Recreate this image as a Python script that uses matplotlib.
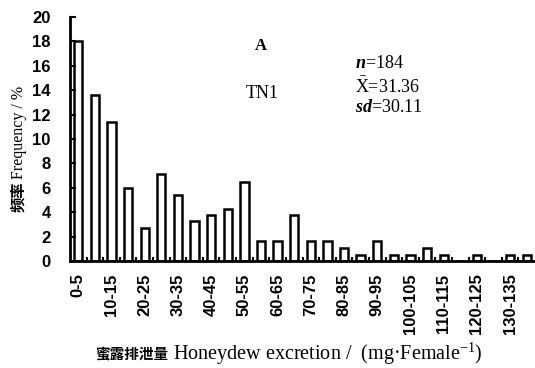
import matplotlib
matplotlib.use("Agg")
import matplotlib.pyplot as plt
import numpy as np

plt.rcParams['mathtext.fontset'] = 'custom'
plt.rcParams['mathtext.rm'] = 'Liberation Serif'
plt.rcParams['mathtext.it'] = 'Liberation Serif:italic'
plt.rcParams['mathtext.bf'] = 'Liberation Serif:bold'
plt.rcParams['mathtext.bfit'] = 'Liberation Serif:italic:bold'

bin_labels = ["0-5", "5-10", "10-15", "15-20", "20-25", "25-30", "30-35", "35-40",
              "40-45", "45-50", "50-55", "55-60", "60-65", "65-70", "70-75", "75-80",
              "80-85", "85-90", "90-95", "95-100", "100-105", "105-110", "110-115",
              "115-120", "120-125", "125-130", "130-135", "135-140"]
frequency = [18.0, 13.6, 11.4, 6.0, 2.7, 7.1, 5.4, 3.3, 3.8, 4.3, 6.5, 1.6, 1.6, 3.8,
             1.6, 1.6, 1.1, 0.5, 1.6, 0.5, 0.5, 1.1, 0.5, 0.0, 0.5, 0.0, 0.5, 0.5]
shown_labels = ["0-5", "10-15", "20-25", "30-35", "40-45", "50-55", "60-65", "70-75",
                "80-85", "90-95", "100-105", "110-115", "120-125", "130-135"]
y_ticks = [0, 2, 4, 6, 8, 10, 12, 14, 16, 18, 20]

W, H = 535, 368
fig = plt.figure(figsize=(W / 100, H / 100), dpi=100)
ax = fig.add_axes([70 / W, 1 - 261 / H, (535 - 70) / W, (261 - 17) / H])

x = np.arange(len(bin_labels))
ax.bar(x, frequency, width=0.5, color='white', edgecolor='black', linewidth=1.8)

ax.set_xlim(-0.5, len(bin_labels) - 0.5)
ax.set_ylim(0, 20)
ax.set_yticks(y_ticks)
ax.set_yticklabels([str(v) for v in y_ticks], fontfamily='Liberation Sans',
                   fontweight='bold', fontsize=12)

label_pos = [bin_labels.index(l) for l in shown_labels]
ax.set_xticks(label_pos)
ax.set_xticklabels(shown_labels, rotation=90, fontfamily='Liberation Sans',
                   fontweight='bold', fontsize=12)
ax.set_xticks(x[:-1] + 0.5, minor=True)
ax.tick_params(axis='x', which='major', length=0, pad=9)
ax.tick_params(axis='x', which='minor', direction='in', length=3, width=1.5)
ax.tick_params(axis='y', direction='in', length=4, width=1.5, pad=14)

for s in ['top', 'right']:
    ax.spines[s].set_visible(False)
for s in ['left', 'bottom']:
    ax.spines[s].set_linewidth(2)

def fx(px):
    return px / W

def fy(py):
    return 1 - py / H

# Annotations
fig.text(fx(261), fy(46), "A", fontfamily='Liberation Serif', fontweight='bold',
         fontsize=12, ha='center', va='center')
fig.text(fx(262), fy(93), "TN1", fontfamily='Liberation Serif', fontsize=13,
         ha='center', va='center')
fig.text(fx(355), fy(63), r"$\mathbfit{n}$=184", fontfamily='Liberation Serif',
         fontsize=13, ha='left', va='center')
fig.text(fx(355), fy(87), r"$\bar{\mathrm{X}}$=31.36", fontfamily='Liberation Serif',
         fontsize=13, ha='left', va='center')
fig.text(fx(355), fy(107), r"$\mathbfit{sd}$=30.11", fontfamily='Liberation Serif',
         fontsize=13, ha='left', va='center')

# Y label
fig.text(fx(18), fy(197), "频率", family=['Noto Sans CJK SC'], fontweight='bold',
         fontsize=11, rotation=90, ha='center', va='center')
fig.text(fx(19), fy(132), "Frequency / %", fontfamily='Liberation Serif',
         fontsize=11.5, rotation=90, ha='center', va='center')

# X label
fig.text(fx(168), fy(354), "蜜露排泄量", family=['Noto Sans CJK SC'], fontweight='bold',
         fontsize=10.5, ha='right', va='center')
fig.text(fx(173), fy(354), r"Honeydew excretion /  (mg·Female$^{-1}$)",
         fontfamily='Liberation Serif', fontsize=14.5, ha='left', va='center')

fig.savefig("out.png", dpi=100)
